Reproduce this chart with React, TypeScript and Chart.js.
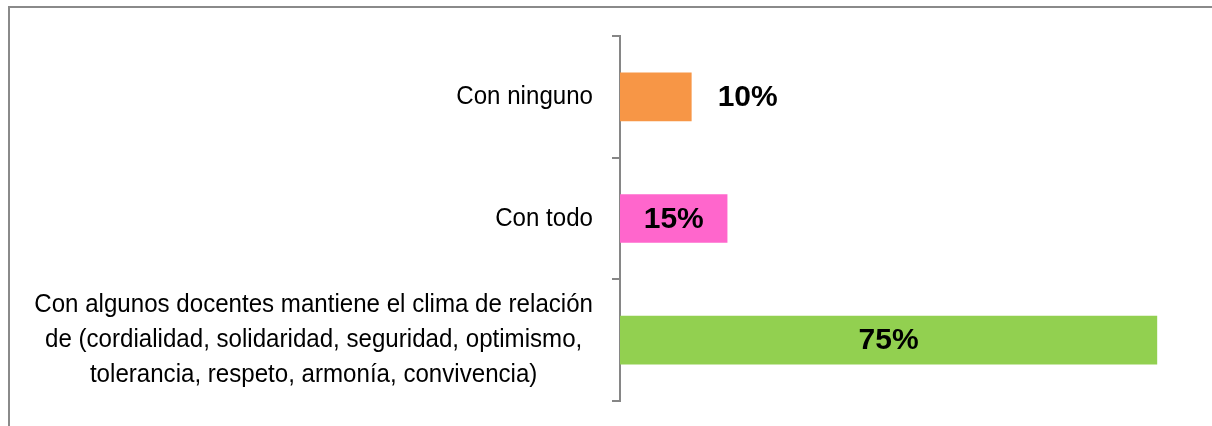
import React, { useEffect, useRef } from "react";
import { Chart, registerables } from "chart.js";

Chart.register(...registerables);

const categories: string[][] = [
  ["Con ninguno"],
  ["Con todo"],
  [
    "Con algunos docentes mantiene el clima de relación",
    "de (cordialidad, solidaridad, seguridad, optimismo,",
    "tolerancia, respeto, armonía, convivencia)",
  ],
];
const values: number[] = [10, 15, 75];
const valueLabels: string[] = ["10%", "15%", "75%"];
const barColors: string[] = ["#F79646", "#FF66CC", "#92D050"];

const LABEL_FONT = '26px "Liberation Sans", Arial, sans-serif';
const LABEL_SCALE_X = 0.927;
const VALUE_FONT = 'bold 30px "Liberation Sans", Arial, sans-serif';

const categoryLabelPlugin = {
  id: "categoryLabels",
  afterDraw(chart: any) {
    const ctx = chart.ctx;
    const y = chart.scales.y;
    const right = chart.chartArea.left - 27;
    const lineH = 35;
    ctx.save();
    ctx.font = LABEL_FONT;
    ctx.fillStyle = "#000";
    ctx.textBaseline = "middle";
    ctx.textAlign = "center";
    categories.forEach((lines, i) => {
      const cy = y.getPixelForValue(i);
      const w = Math.max(...lines.map((l) => ctx.measureText(l).width)) * LABEL_SCALE_X;
      const cx = right - w / 2;
      const startY = cy - ((lines.length - 1) * lineH) / 2;
      lines.forEach((l, j) => {
        ctx.save();
        ctx.translate(cx, startY + j * lineH);
        ctx.scale(LABEL_SCALE_X, 1);
        ctx.fillText(l, 0, 0);
        ctx.restore();
      });
    });
    ctx.restore();
  },
};

const valueLabelPlugin = {
  id: "valueLabels",
  afterDatasetsDraw(chart: any) {
    const ctx = chart.ctx;
    const meta = chart.getDatasetMeta(0);
    ctx.save();
    ctx.font = VALUE_FONT;
    ctx.fillStyle = "#000";
    ctx.textBaseline = "middle";
    meta.data.forEach((bar: any, i: number) => {
      const txt = valueLabels[i];
      if (i === 0) {
        ctx.textAlign = "left";
        ctx.fillText(txt, bar.x + 26, bar.y + 1);
      } else {
        ctx.textAlign = "center";
        ctx.fillText(txt, (bar.x + bar.base) / 2, bar.y + 1);
      }
    });
    ctx.restore();
  },
};

export default function App() {
  const ref = useRef<HTMLCanvasElement | null>(null);
  useEffect(() => {
    document.body.style.overflow = "hidden";
    if (!ref.current) return;
    const chart = new Chart(ref.current, {
      type: "bar",
      data: {
        labels: categories.map((c) => c.join(" ")),
        datasets: [
          {
            data: values,
            backgroundColor: barColors,
            borderWidth: 0,
            categoryPercentage: 1,
            barPercentage: 0.4,
          },
        ],
      },
      options: {
        indexAxis: "y",
        animation: false,
        responsive: true,
        maintainAspectRatio: false,
        layout: { padding: { top: 28, bottom: 27, right: 17, left: 0 } },
        plugins: { legend: { display: false }, tooltip: { enabled: false } },
        scales: {
          x: { display: false, min: 0, max: 80 },
          y: {
            afterFit: (s: any) => {
              s.width = 610;
            },
            ticks: { display: false },
            grid: {
              display: true,
              drawOnChartArea: false,
              drawTicks: true,
              tickLength: 8,
              color: "#868686",
              lineWidth: 2,
              offset: true,
            },
            border: { display: true, color: "#868686", width: 2 },
          },
        },
      },
      plugins: [categoryLabelPlugin, valueLabelPlugin],
    });
    return () => chart.destroy();
  }, []);
  return (
    <div
      style={{
        position: "fixed",
        left: 8,
        top: 6,
        width: 1230,
        height: 440,
        border: "2px solid #8a8a8a",
        boxSizing: "content-box",
      }}
    >
      <div style={{ width: 1200, height: 420, position: "relative" }}>
        <canvas ref={ref} />
      </div>
    </div>
  );
}
